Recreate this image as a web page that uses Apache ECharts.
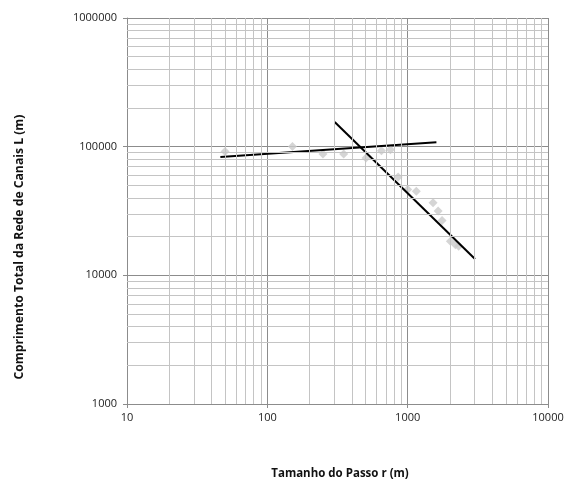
<!DOCTYPE html>
<html><head><meta charset="utf-8">
<script src="https://cdn.jsdelivr.net/npm/echarts@6/dist/echarts.min.js"></script>
<style>html,body{margin:0;padding:0;background:#fff}#c{width:568px;height:495px}</style>
</head><body><div id="c"></div>
<script>
// Observed points: step size r (m) and total channel length L (m)
const stepSize = [50, 151, 249, 350, 505, 650, 753, 855, 1000, 1153, 1517, 1648, 1758, 2015, 2188, 2310];
const totalLength = [91900, 100400, 87700, 87700, 81700, 93000, 94800, 58200, 46400, 45000, 36700, 31600, 26700, 18400, 17300, 16800];
// Trend line 1 (flat segment) endpoints
const trend1X = [46.3, 1603];
const trend1Y = [83200, 108000];
// Trend line 2 (steep segment) endpoints
const trend2X = [302, 3020];
const trend2Y = [155700, 13400];
// Axis tick labels
const xTicks = [10, 100, 1000, 10000];
const yTicks = [1000, 10000, 100000, 1000000];
const xTitle = 'Tamanho do Passo r (m)';
const yTitle = 'Comprimento Total da Rede de Canais L (m)';

const minorX = [], minorY = [];
for (let k = 1; k < 4; k++) for (let m = 2; m <= 9; m++) minorX.push(m * Math.pow(10, k));
for (let k = 3; k < 6; k++) for (let m = 2; m <= 9; m++) minorY.push(m * Math.pow(10, k));

const chart = echarts.init(document.getElementById('c'), null, {renderer: 'canvas'});
const font = '"Open Sans", "Liberation Sans", sans-serif';
const fmt = v => String(Math.round(v));
chart.setOption({
  animation: false,
  grid: {left: 127, right: 20, top: 18, bottom: 91, containLabel: false},
  graphic: [
    {type: 'text', x: 340, y: 474,
     style: {text: xTitle, font: 'bold 11.5px ' + font, fill: '#111', align: 'center', verticalAlign: 'middle'}},
    {type: 'text', x: 20, y: 247, rotation: Math.PI / 2,
     style: {text: yTitle, font: 'bold 12.2px ' + font, fill: '#111', align: 'center', verticalAlign: 'middle'}}
  ],
  xAxis: {
    type: 'log', logBase: 10, min: xTicks[0], max: xTicks[xTicks.length - 1],
    axisLine: {lineStyle: {color: '#8c8c8c', width: 1}},
    axisTick: {show: true, length: 4, lineStyle: {color: '#8c8c8c'}},
    axisLabel: {fontFamily: font, fontSize: 11, color: '#222', margin: 8, formatter: fmt},
    splitLine: {show: true, lineStyle: {color: '#8c8c8c', width: 1}},
    minorTick: {show: false}, minorSplitLine: {show: false}
  },
  yAxis: {
    type: 'log', logBase: 10, min: yTicks[0], max: yTicks[yTicks.length - 1],
    axisLine: {show: true, lineStyle: {color: '#8c8c8c', width: 1}},
    axisTick: {show: true, length: 4, lineStyle: {color: '#8c8c8c'}},
    axisLabel: {fontFamily: font, fontSize: 11, color: '#222', margin: 10, formatter: fmt},
    splitLine: {show: true, lineStyle: {color: '#8c8c8c', width: 1}},
    minorTick: {show: false}, minorSplitLine: {show: false}
  },
  series: [
    {
      type: 'line', data: [], z: 1, silent: true,
      markLine: {
        silent: true, symbol: 'none', animation: false,
        label: {show: false},
        lineStyle: {color: '#c4c4c4', width: 1, type: 'solid'},
        data: minorX.map(v => ({xAxis: v})).concat(minorY.map(v => ({yAxis: v})))
      }
    },
    {
      type: 'scatter', z: 3, symbol: 'diamond', symbolSize: 9,
      itemStyle: {color: '#cacaca'},
      data: stepSize.map((x, i) => [x, totalLength[i]])
    },
    {
      type: 'line', z: 4, symbol: 'none', lineStyle: {color: '#000', width: 2},
      data: trend1X.map((x, i) => [x, trend1Y[i]])
    },
    {
      type: 'line', z: 4, symbol: 'none', lineStyle: {color: '#000', width: 2},
      data: trend2X.map((x, i) => [x, trend2Y[i]])
    }
  ]
});
</script>
</body></html>
